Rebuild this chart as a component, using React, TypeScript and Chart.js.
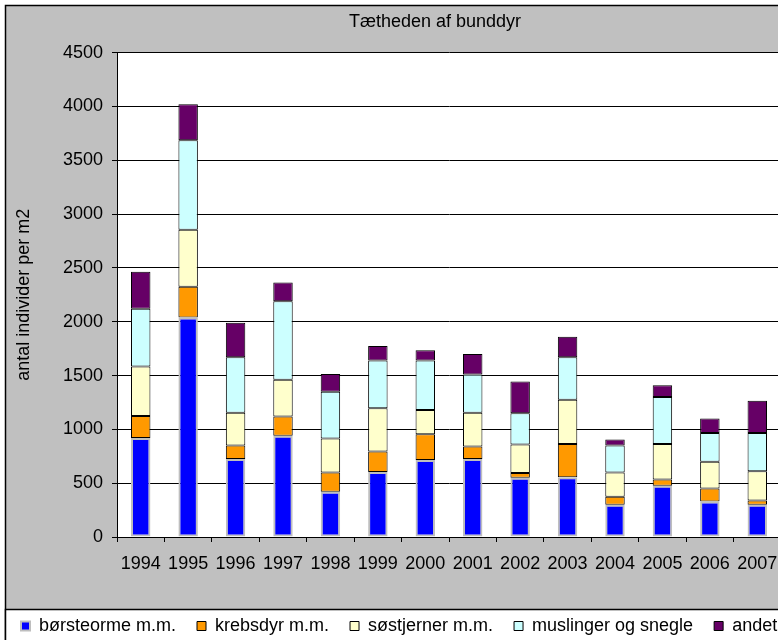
import React, { useEffect, useRef } from 'react';
import { Chart, registerables } from 'chart.js';

Chart.register(...registerables);

const years = ['1994', '1995', '1996', '1997', '1998', '1999', '2000', '2001', '2002', '2003', '2004', '2005', '2006', '2007'];
const borsteorme = [920, 2040, 725, 940, 420, 605, 715, 725, 550, 555, 300, 475, 330, 300];
const krebsdyr = [205, 285, 125, 180, 180, 190, 240, 115, 45, 310, 75, 60, 120, 40];
const sostjerner = [460, 530, 305, 340, 315, 400, 225, 315, 265, 410, 225, 330, 250, 270];
const muslinger = [535, 830, 515, 730, 435, 445, 460, 355, 290, 395, 250, 435, 265, 355];
const andet = [345, 335, 320, 175, 165, 135, 95, 190, 295, 190, 55, 110, 135, 300];
const seriesNames = ['børsteorme m.m.', 'krebsdyr m.m.', 'søstjerner m.m.', 'muslinger og snegle', 'andet'];
const yMin = 0;
const yMax = 4500;
const yStep = 500;
const titleText = 'Tætheden af bunddyr';
const yTitle = 'antal individer per m2';

const FONT = "'Liberation Sans', Arial, Helvetica, sans-serif";

const bgPlugin = {
  id: 'excelBg',
  beforeDraw(chart: any) {
    const { ctx, width, height, chartArea, legend } = chart;
    ctx.save();
    ctx.fillStyle = '#ffffff';
    ctx.fillRect(0, 0, width, height);
    ctx.fillStyle = '#C0C0C0';
    ctx.fillRect(5.5, 5.5, width, height);
    ctx.strokeStyle = '#000000';
    ctx.lineWidth = 1.5;
    ctx.strokeRect(5.5, 5.5, width, height);
    ctx.fillStyle = '#ffffff';
    ctx.fillRect(chartArea.left, chartArea.top, chartArea.right - chartArea.left, chartArea.bottom - chartArea.top);
    const ly = Math.round(legend.top + 13) + 0.5;
    ctx.fillStyle = '#ffffff';
    ctx.fillRect(5.5, ly, width, height);
    ctx.strokeRect(5.5, ly, width, height);
    ctx.restore();
  },
};

export default function App() {
  const ref = useRef<HTMLCanvasElement>(null);

  useEffect(() => {
    const common = {
      borderColor: '#000000',
      borderWidth: 1,
      borderSkipped: false,
      barPercentage: 0.41,
      categoryPercentage: 1,
      stack: 's',
    };
    const font = { family: FONT, size: 18, weight: 'normal' as const };
    const chart = new Chart(ref.current as HTMLCanvasElement, {
      type: 'bar',
      data: {
        labels: years,
        datasets: [
          { ...common, label: seriesNames[0], data: borsteorme, backgroundColor: '#0000FF', borderColor: '#BEBEBE', borderWidth: 2 },
          { ...common, label: seriesNames[1], data: krebsdyr, backgroundColor: '#FF9900' },
          { ...common, label: seriesNames[2], data: sostjerner, backgroundColor: '#FFFFCC' },
          { ...common, label: seriesNames[3], data: muslinger, backgroundColor: '#CCFFFF' },
          { ...common, label: seriesNames[4], data: andet, backgroundColor: '#660066' },
        ] as any,
      },
      options: {
        responsive: false,
        animation: false,
        devicePixelRatio: 1,
        layout: { padding: 0 },
        plugins: {
          tooltip: { enabled: false },
          title: {
            display: true,
            text: titleText,
            color: '#000000',
            font,
            padding: { top: 11, bottom: 20 },
          },
          legend: {
            position: 'bottom',
            align: 'start',
            labels: {
              boxWidth: 9,
              boxHeight: 9,
              padding: 21,
              color: '#000000',
              font,
            },
          },
        },
        scales: {
          x: {
            stacked: true,
            offset: true,
            grid: {
              offset: true,
              drawOnChartArea: false,
              drawTicks: true,
              tickLength: 5,
              color: '#000000',
              lineWidth: 1,
            },
            border: { display: true, color: '#000000', width: 1 },
            ticks: { color: '#000000', font, padding: 11, maxRotation: 0, autoSkip: false },
            afterFit: (s: any) => {
              s.height = 59;
            },
          },
          y: {
            stacked: true,
            min: yMin,
            max: yMax,
            ticks: {
              stepSize: yStep,
              color: '#000000',
              font,
              padding: 9,
              callback: (v: any) => String(v),
            },
            grid: { color: '#000000', lineWidth: 1, tickLength: 5 },
            border: { display: true, color: '#000000', width: 1 },
            title: {
              display: true,
              text: yTitle,
              color: '#000000',
              font,
              padding: { top: 13, bottom: 0 },
            },
            afterFit: (s: any) => {
              s.width = 117;
            },
          },
          y2: {
            position: 'right',
            display: true,
            grid: { display: false, drawTicks: false },
            border: { display: false },
            ticks: { display: false },
            afterFit: (s: any) => {
              s.width = 89;
            },
          },
        },
      } as any,
      plugins: [bgPlugin],
    });
    return () => chart.destroy();
  }, []);

  return (
    <div
      style={{
        position: 'fixed',
        left: 0,
        top: 0,
        width: 778,
        height: 640,
        overflow: 'hidden',
        background: '#ffffff',
      }}
    >
      <canvas ref={ref} width={870} height={645} style={{ display: 'block' }} />
    </div>
  );
}
